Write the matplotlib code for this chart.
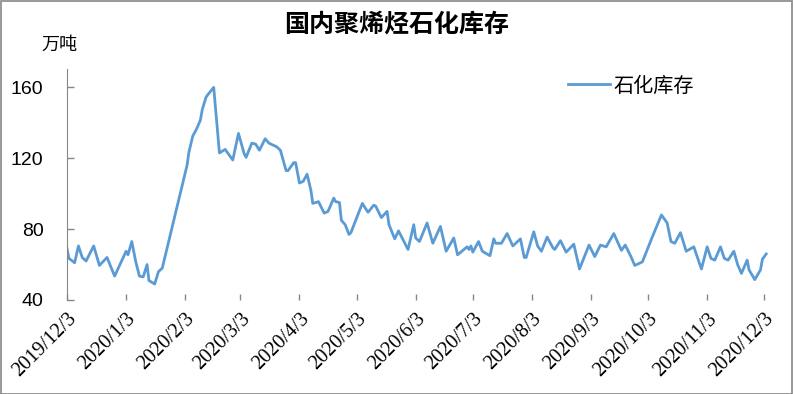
import matplotlib
matplotlib.use('Agg')
import matplotlib.pyplot as plt
import pandas as pd
from matplotlib.patches import Rectangle

plt.rcParams['font.family'] = ['Noto Sans CJK SC', 'DejaVu Sans']

title = '国内聚烯烃石化库存'
unit = '万吨'
series_name = '石化库存'

dates = [
    '2019-12-03', '2019-12-04', '2019-12-07', '2019-12-09', '2019-12-11', '2019-12-13',
    '2019-12-17', '2019-12-20', '2019-12-24', '2019-12-28', '2019-12-31', '2020-01-03',
    '2020-01-04', '2020-01-06', '2020-01-08', '2020-01-10', '2020-01-12', '2020-01-14',
    '2020-01-15', '2020-01-18', '2020-01-20', '2020-01-22', '2020-02-04', '2020-02-05',
    '2020-02-07', '2020-02-09', '2020-02-11', '2020-02-12', '2020-02-14', '2020-02-15',
    '2020-02-18', '2020-02-21', '2020-02-24', '2020-02-28', '2020-03-02', '2020-03-05',
    '2020-03-06', '2020-03-09', '2020-03-11', '2020-03-13', '2020-03-16', '2020-03-18',
    '2020-03-22', '2020-03-24', '2020-03-27', '2020-03-28', '2020-03-31', '2020-04-01',
    '2020-04-03', '2020-04-05', '2020-04-07', '2020-04-09', '2020-04-10', '2020-04-13',
    '2020-04-16', '2020-04-18', '2020-04-21', '2020-04-22', '2020-04-24', '2020-04-25',
    '2020-04-27', '2020-04-29', '2020-04-30', '2020-05-06', '2020-05-09', '2020-05-12',
    '2020-05-13', '2020-05-16', '2020-05-19', '2020-05-20', '2020-05-23', '2020-05-25',
    '2020-05-30', '2020-06-02', '2020-06-03', '2020-06-05', '2020-06-09', '2020-06-12',
    '2020-06-16', '2020-06-19', '2020-06-23', '2020-06-25', '2020-06-30', '2020-07-01',
    '2020-07-02', '2020-07-03', '2020-07-06', '2020-07-08', '2020-07-12', '2020-07-14',
    '2020-07-15', '2020-07-18', '2020-07-21', '2020-07-24', '2020-07-28', '2020-07-30',
    '2020-07-31', '2020-08-04', '2020-08-06', '2020-08-08', '2020-08-11', '2020-08-14',
    '2020-08-15', '2020-08-18', '2020-08-21', '2020-08-25', '2020-08-28', '2020-09-02',
    '2020-09-05', '2020-09-08', '2020-09-11', '2020-09-15', '2020-09-19', '2020-09-21',
    '2020-09-24', '2020-09-26', '2020-09-30', '2020-10-05', '2020-10-10', '2020-10-13',
    '2020-10-15', '2020-10-17', '2020-10-20', '2020-10-23', '2020-10-27', '2020-10-31',
    '2020-11-03', '2020-11-05', '2020-11-07', '2020-11-10', '2020-11-12', '2020-11-14',
    '2020-11-17', '2020-11-19', '2020-11-21', '2020-11-24', '2020-11-25', '2020-11-28',
    '2020-12-01', '2020-12-02', '2020-12-04',
]
stock = [
    69, 63.5, 61, 70.5, 64, 62,
    70.5, 59.5, 64, 53.5, 60.5, 67.5,
    65.5, 73, 62, 53.5, 53, 60,
    51, 49, 56, 58, 116, 123.5,
    132.5, 136.5, 141.5, 147.5, 154.5, 156,
    160, 123, 125, 119, 134, 122.5,
    120.5, 128.5, 128, 124.5, 131, 128.5,
    126.5, 124.5, 113, 113, 117.5, 117.5,
    106, 107, 111, 102, 94.5, 95.5,
    89, 90, 97.5, 95.5, 95, 85,
    82.5, 77, 78, 94.5, 89.5, 93.5,
    93, 86.5, 90, 82.5, 74.5, 79,
    68.5, 82.5, 75, 73, 83.5, 72,
    81.5, 67.5, 75, 65.5, 70, 68.5,
    70.5, 67, 73, 67.5, 65, 74.5,
    72, 72, 77.5, 70.5, 74.5, 64,
    64, 78.5, 70.5, 67.5, 75.5, 69.5,
    68.5, 73.5, 67, 71.5, 57.5, 71,
    64.5, 71, 70, 77.5, 68, 71,
    64.5, 59.5, 61.5, 75, 88, 83.5,
    73, 72, 78, 67.5, 70, 57.5,
    70, 63.5, 62.5, 70, 63.5, 62.5,
    67.5, 60, 55, 62.5, 57, 51.5,
    57, 63, 66,
]
tick_dates = [
    '2019-12-03', '2020-01-03', '2020-02-03', '2020-03-03', '2020-04-03',
    '2020-05-03', '2020-06-03', '2020-07-03', '2020-08-03', '2020-09-03',
    '2020-10-03', '2020-11-03', '2020-12-03',
]
tick_labels = [
    '2019/12/3', '2020/1/3', '2020/2/3', '2020/3/3', '2020/4/3', '2020/5/3',
    '2020/6/3', '2020/7/3', '2020/8/3', '2020/9/3', '2020/10/3', '2020/11/3',
    '2020/12/3',
]
y_ticks = [40, 80, 120, 160]

x = pd.to_datetime(dates)

fig = plt.figure(figsize=(7.94, 3.94), dpi=100)
ax = fig.add_axes([0.0844, 0.2386, 0.883, 0.586])

ax.plot(x, stock, color='#5B9BD5', linewidth=2.0, label=series_name)

ax.set_xlim(pd.Timestamp('2019-12-03'), pd.Timestamp('2020-12-05'))
ax.set_ylim(40, 170.3)

for side in ['top', 'right', 'bottom']:
    ax.spines[side].set_visible(False)
ax.spines['left'].set_color('#868686')

ax.set_yticks(y_ticks)
ax.set_yticklabels([str(v) for v in y_ticks], family='Liberation Sans', fontsize=14)
ax.set_xticks(pd.to_datetime(tick_dates))
ax.set_xticklabels(tick_labels, rotation=45, ha='right', va='top',
                   rotation_mode='anchor', family='Liberation Serif', fontsize=14.5)
ax.yaxis.set_tick_params(direction='in', length=5, color='#868686', width=1, pad=17)
ax.xaxis.set_tick_params(direction='in', length=4, color='#868686', width=1, pad=7)

ax.legend(loc='center left', bbox_to_anchor=(568 / 794, 1 - 86 / 394),
          bbox_transform=fig.transFigure, borderaxespad=0, borderpad=0,
          frameon=False, fontsize=14.5, handlelength=2.1, handletextpad=0.15)

fig.text(0.499, 0.937, title, ha='center', va='center', fontsize=18, fontweight='bold')
fig.text(0.0516, 0.887, unit, ha='left', va='center', fontsize=13)

fig.patches.append(Rectangle((0.001, 0.001), 0.997, 0.996, transform=fig.transFigure,
                             fill=False, edgecolor='#868686', linewidth=1.2))

plt.savefig('out.png', dpi=100)
